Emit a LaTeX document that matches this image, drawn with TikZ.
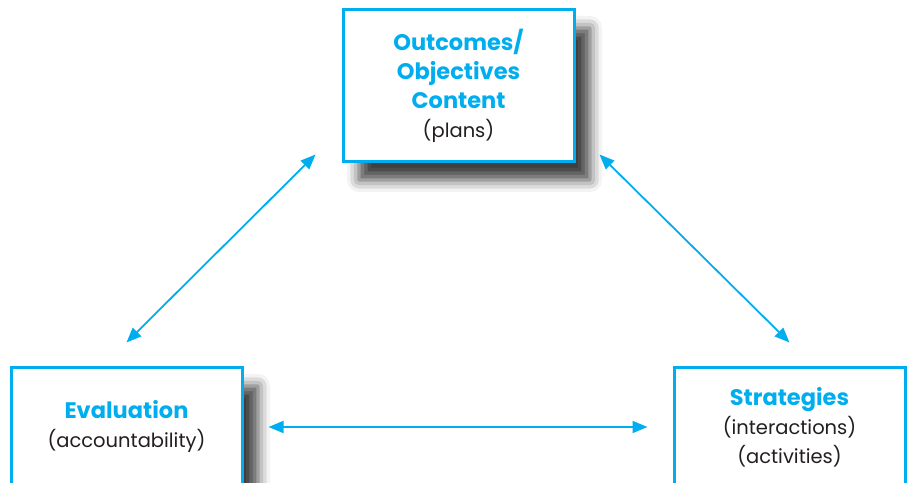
\documentclass[tikz,border=0pt]{standalone}
\usepackage{fontspec}
\setmainfont{Poppins}
\usetikzlibrary{positioning, arrows.meta, shadows.blur}
\definecolor{planblue}{HTML}{00AEEF}
\definecolor{plangray}{HTML}{231F20}
\newcommand{\head}[1]{{\fontsize{22.5}{29}\selectfont\bfseries\color{planblue}#1}}

\begin{document}
\begin{tikzpicture}[x=1pt, y=1pt,
        box/.style={rectangle, draw=planblue, fill=white, line width=3pt, minimum width=231pt,
          text=plangray, align=center, font=\fontsize{19.5}{29}\selectfont,
          blur shadow={shadow xshift=16pt, shadow yshift=-18pt, shadow blur radius=12pt, shadow opacity=75}},
        link/.style={{Triangle[length=15pt, width=12pt]}-{Triangle[length=15pt, width=12pt]}, line width=1.8pt, planblue}]
      \clip (0,0) rectangle (907,482);
      % Boxes
      \node[box, minimum height=152pt] (plans) at (458.5,396) {\head{Outcomes/}\\ \head{Objectives}\\ \head{Content}\\ (plans)};
      \node[box, minimum height=118pt] (eval) at (126.5,55) {\head{Evaluation}\\ (accountability)};
      \node[box, minimum height=118pt] (strat) at (789.5,55) {\head{Strategies}\\ (interactions)\\ (activities)};

      % Arrow ends
      \coordinate[above left=9pt and 26pt of plans.south west] (pl);
      \coordinate[above right=9pt and 24pt of plans.south east] (pr);
      \coordinate[above=24pt of eval.north] (ev);
      \coordinate[above=24pt of strat.north] (st);

      \draw[link] (ev) -- (pl);
      \draw[link] (pr) -- (st);
      \draw[link, shorten <=25pt, shorten >=25pt] (eval.east) -- (strat.west);
    \end{tikzpicture}
\end{document}
